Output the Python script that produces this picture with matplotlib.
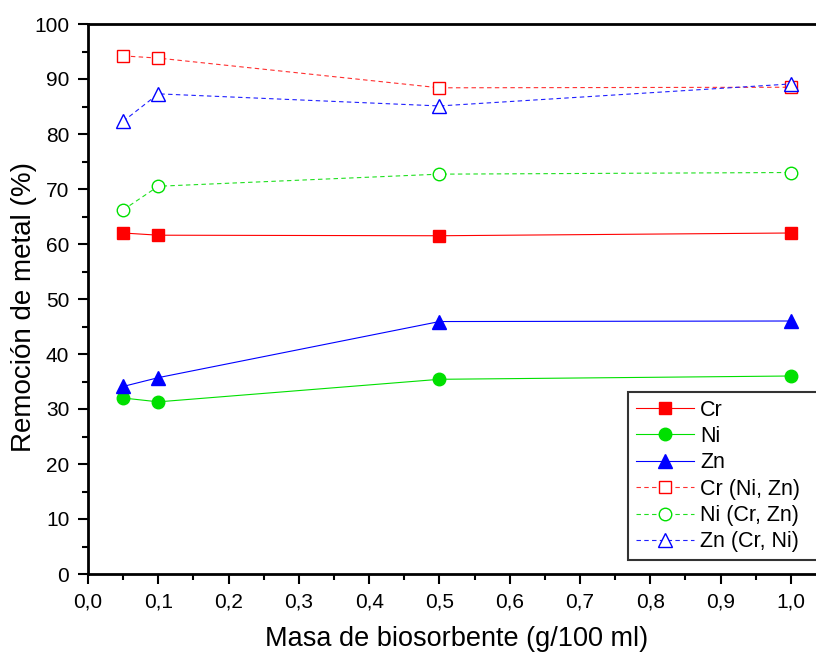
import matplotlib

matplotlib.use("Agg")
import matplotlib.pyplot as plt
from matplotlib.ticker import MultipleLocator, FuncFormatter

plt.rcParams["font.family"] = ["Liberation Sans", "DejaVu Sans"]

masa = [0.05, 0.1, 0.5, 1.0]
cr = [62.0, 61.6, 61.5, 62.0]
ni = [32.0, 31.3, 35.4, 36.0]
zn = [34.1, 35.7, 45.9, 46.0]
cr_mix = [94.2, 93.8, 88.4, 88.5]
ni_mix = [66.2, 70.5, 72.7, 73.0]
zn_mix = [82.3, 87.3, 85.1, 89.1]

fig = plt.figure(figsize=(8.16, 6.55), dpi=100)
ax = fig.add_axes([88 / 816, 81 / 655, 738 / 816, 550 / 655])

ax.plot(masa, cr, color="#ff0000", lw=0.8, marker="s", ms=8, mfc="#ff0000", mec="#ff0000", label="Cr")
ax.plot(masa, ni, color="#00e000", lw=0.8, marker="o", ms=9, mfc="#00e000", mec="#00e000", label="Ni")
ax.plot(masa, zn, color="#0000ff", lw=0.8, marker="^", ms=10, mfc="#0000ff", mec="#0000ff", label="Zn")
ax.plot(masa, cr_mix, color="#ff3030", lw=0.8, ls=(0, (4, 3)), marker="s", ms=8, mfc="white", mec="#ff0000", label="Cr (Ni, Zn)")
ax.plot(masa, ni_mix, color="#20e020", lw=0.8, ls=(0, (4, 3)), marker="o", ms=9, mfc="white", mec="#00e000", label="Ni (Cr, Zn)")
ax.plot(masa, zn_mix, color="#2020ff", lw=0.8, ls=(0, (4, 3)), marker="^", ms=10, mfc="white", mec="#0000ff", label="Zn (Cr, Ni)")

ax.set_xlim(0, 1.05)
ax.set_ylim(0, 100)
ax.xaxis.set_major_locator(MultipleLocator(0.1))
ax.xaxis.set_minor_locator(MultipleLocator(0.05))
ax.yaxis.set_major_locator(MultipleLocator(10))
ax.yaxis.set_minor_locator(MultipleLocator(5))
ax.xaxis.set_major_formatter(FuncFormatter(lambda v, p: f"{v:.1f}".replace(".", ",")))

for side in ["left", "bottom", "top", "right"]:
    ax.spines[side].set_linewidth(2)
ax.tick_params(which="major", direction="out", length=7.5, width=1.5, labelsize=15, pad=6,
               top=False, right=False)
ax.tick_params(which="minor", direction="out", length=4.5, width=1.5, top=False, right=False)

ax.set_xlabel("Masa de biosorbente (g/100 ml)", fontsize=19.5, labelpad=10)
ax.set_ylabel("Remoción de metal (%)", fontsize=20)
ax.yaxis.set_label_coords(-0.069, 0.486)

leg = ax.legend(loc="upper left", bbox_to_anchor=(628 / 816, 90 / 655, 200 / 816, 173 / 655),
                bbox_transform=fig.transFigure, mode="expand", fontsize=15.5, frameon=True,
                fancybox=False, edgecolor="black", handlelength=2.7, labelspacing=0.25,
                borderaxespad=0, borderpad=0.35, handletextpad=0.3)
leg.get_frame().set_linewidth(1.5)

fig.savefig("out.png", dpi=100)
